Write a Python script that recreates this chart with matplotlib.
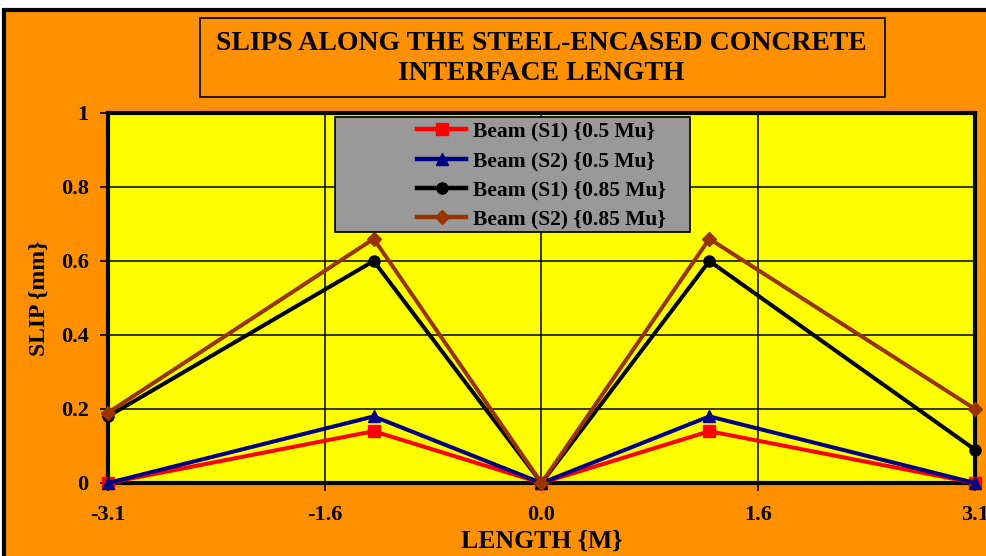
import matplotlib
matplotlib.use('Agg')
import matplotlib.pyplot as plt
from matplotlib.patches import Rectangle

# slip readings along the interface (x in m, slip in mm)
length = [-3.1, -1.2, 0.0, 1.2, 3.1]
s1_05 = [0.0, 0.14, 0.0, 0.14, 0.0]
s2_05 = [0.0, 0.18, 0.0, 0.18, 0.0]
s1_085 = [0.18, 0.60, 0.0, 0.60, 0.09]
s2_085 = [0.19, 0.66, 0.0, 0.66, 0.20]

x_ticks = [-3.1, -1.55, 0.0, 1.55, 3.1]
x_tick_labels = ['-3.1', '-1.6', '0.0', '1.6', '3.1']
y_ticks = [0, 0.2, 0.4, 0.6, 0.8, 1.0]
y_tick_labels = ['0', '0.2', '0.4', '0.6', '0.8', '1']

ORANGE, YELLOW = '#ff9000', '#ffff00'
SERIF = ['Liberation Serif', 'DejaVu Serif']

W, H = 987, 556
fig = plt.figure(figsize=(W / 100, H / 100), dpi=100, facecolor='white')

# orange chart area with heavy black frame (runs past right/bottom edge)
fig.patches.append(Rectangle((4 / W, -0.05), 1.1, 1 - 10 / H + 0.05,
                             transform=fig.transFigure, facecolor=ORANGE,
                             edgecolor='black', linewidth=3, zorder=-10))

# title box
fig.patches.append(Rectangle((200 / W, 1 - 97 / H), 685 / W, 79 / H,
                             transform=fig.transFigure, facecolor='none',
                             edgecolor='black', linewidth=1.2, zorder=-5))
fig.text(541 / W, 1 - 43 / H, 'SLIPS ALONG THE STEEL-ENCASED CONCRETE',
         ha='center', va='center', fontsize=20, fontweight='bold', family=SERIF)
fig.text(541 / W, 1 - 73 / H, 'INTERFACE LENGTH',
         ha='center', va='center', fontsize=20, fontweight='bold', family=SERIF)

ax = fig.add_axes([108 / W, 1 - 483 / H, 867 / W, 370 / H], zorder=2)
ax.set_facecolor(YELLOW)

series = [
    (s1_05, '#ff0000', 's', 8, 'Beam (S1) {0.5 Mu}'),
    (s2_05, '#000080', '^', 9, 'Beam (S2) {0.5 Mu}'),
    (s1_085, '#000000', 'o', 8, 'Beam (S1) {0.85 Mu}'),
    (s2_085, '#993300', 'D', 7, 'Beam (S2) {0.85 Mu}'),
]
for ys, c, m, ms, lab in series:
    ax.plot(length, ys, color=c, marker=m, markersize=ms, linewidth=2.9,
            label=lab, clip_on=False, zorder=3)

ax.set_xlim(-3.1, 3.1)
ax.set_ylim(0, 1)
ax.tick_params(axis='both', direction='out', length=6, width=1.2, colors='black')
ax.tick_params(axis='x', pad=10)
ax.tick_params(axis='y', pad=8)
tick_font = dict(fontsize=16, fontweight='bold', family=SERIF)
ax.set_xticks(x_ticks)
ax.set_xticklabels(x_tick_labels, **tick_font)
ax.set_yticks(y_ticks)
ax.set_yticklabels(y_tick_labels, **tick_font)
ax.grid(True, color='black', linewidth=1.1)
ax.set_axisbelow(True)
for sp in ax.spines.values():
    sp.set_linewidth(3)
    sp.set_color('black')

ax.set_xlabel('LENGTH {M}', fontsize=18.5, fontweight='bold', family=SERIF,
              labelpad=3)
ax.set_ylabel('SLIP {mm}', fontsize=17, fontweight='bold', family=SERIF,
              labelpad=8)

# grey legend panel
ax.add_patch(Rectangle(((335 - 108) / 867, (483 - 232) / 370),
                       355 / 867, 115 / 370, transform=ax.transAxes,
                       facecolor='#999999', edgecolor='black', linewidth=1.2,
                       zorder=4))
leg = ax.legend(loc='upper left', bbox_to_anchor=((406 - 108) / 867, 1.005),
                frameon=False, prop={'family': SERIF, 'weight': 'bold', 'size': 15.5},
                handlelength=2.3, labelspacing=0.42, borderaxespad=0.1,
                handletextpad=0.3)
for h in leg.legend_handles:
    h.set_linewidth(3.2)
leg.set_zorder(5)

fig.savefig('out.png', dpi=100, facecolor='white')
